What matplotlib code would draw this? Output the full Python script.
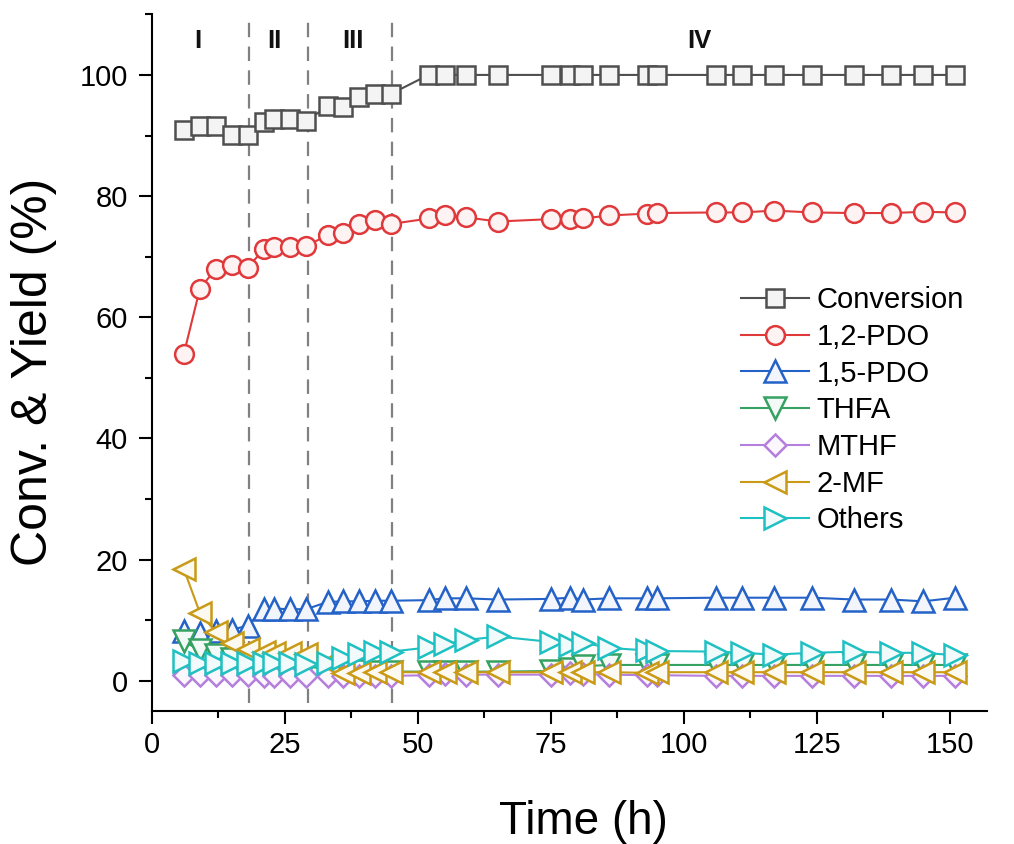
import matplotlib
matplotlib.use("Agg")
import matplotlib.pyplot as plt
from matplotlib.ticker import MultipleLocator
import matplotlib.colors as mcolors

plt.rcParams['font.family'] = ['Liberation Sans', 'DejaVu Sans']

# ---------------- data ----------------
time_h = [6, 9, 12, 15, 18, 21, 23, 26, 29, 33, 36, 39, 42, 45, 52, 55, 59, 65,
          75, 78.5, 81, 86, 93, 95, 106, 111, 117, 124, 132, 139, 145, 151]

conversion = [90.9, 91.6, 91.5, 90.1, 90.1, 92.3, 92.7, 92.7, 92.4, 94.8, 94.7, 96.3,
              96.9, 96.9, 100, 100, 100, 100, 100, 100, 100, 100, 100, 100, 100, 100,
              100, 100, 100, 100, 100, 100]
pdo12 = [54.0, 64.7, 68.0, 68.6, 68.2, 71.2, 71.6, 71.6, 71.7, 73.6, 73.9, 75.4, 76.0,
         75.4, 76.3, 76.9, 76.5, 75.8, 76.2, 76.2, 76.3, 76.8, 77.1, 77.2, 77.3, 77.3,
         77.6, 77.3, 77.2, 77.2, 77.4, 77.3]
pdo15 = [8.2, 7.8, 8.2, 8.4, 9.1, 11.8, 11.9, 11.8, 11.8, 13.0, 13.1, 13.1, 13.2, 13.2,
         13.3, 13.6, 13.6, 13.4, 13.5, 13.7, 13.4, 13.6, 13.6, 13.6, 13.7, 13.7, 13.7,
         13.7, 13.4, 13.4, 13.1, 13.7]
thfa = [6.5, 5.0, 4.2, 3.6, 3.2, 2.9, 2.7, 2.5, 2.3, 2.0, 1.8, 1.6, 1.5, 1.5, 1.5, 1.5,
        1.5, 1.5, 1.6, 2.0, 2.4, 2.6, 2.6, 2.6, 2.6, 2.6, 2.6, 2.6, 2.6, 2.6, 2.6, 2.6]
mthf = [1.0, 1.0, 1.0, 0.9, 0.9, 0.8, 0.8, 0.8, 0.8, 0.8, 0.8, 0.8, 0.8, 0.8, 0.9, 1.1,
        1.0, 1.0, 1.0, 1.3, 1.1, 1.0, 0.9, 0.9, 0.8, 0.8, 0.8, 0.8, 0.8, 0.8, 0.8, 0.8]
mf2 = [18.4, 11.2, 8.0, 6.2, 5.2, 4.8, 4.6, 4.6, 4.4, 3.0, 1.3, 1.3, 1.4, 1.4, 1.4, 1.4,
       1.4, 1.4, 1.4, 1.4, 1.4, 1.4, 1.3, 1.4, 1.4, 1.4, 1.4, 1.4, 1.4, 1.4, 1.4, 1.4]
others = [3.2, 3.0, 3.0, 3.0, 3.0, 2.9, 2.9, 2.9, 2.8, 3.0, 3.8, 4.4, 4.7, 4.8, 5.5, 6.0,
          6.7, 7.3, 6.4, 5.9, 6.3, 5.4, 5.0, 4.9, 4.8, 4.6, 4.3, 4.6, 4.8, 4.6, 4.6, 4.2]

series_names = ["Conversion", "1,2-PDO", "1,5-PDO", "THFA", "MTHF", "2-MF", "Others"]

period_bounds = [18.2, 29.3, 45.2]
period_labels = ["I", "II", "III", "IV"]
period_label_x = [8.7, 23.1, 37.7, 103]

# ---------------- style ----------------
colors = ["#4f4f4f", "#e0393b", "#2462c8", "#35a262", "#b47fdd", "#c99a16", "#1fc0c2"]
markers = ["s", "o", "^", "v", "D", "<", ">"]
msizes = [12.5, 13.5, 16, 16, 11, 16.5, 16.5]

def tint(c, f=0.06):
    r, g, b = mcolors.to_rgb(c)
    return (1 - f + f * r, 1 - f + f * g, 1 - f + f * b)

fig = plt.figure(figsize=(10.14, 8.44), dpi=100)
ax = fig.add_axes([0.1499, 0.1576, 0.9734 - 0.1499, 0.983 - 0.1576])

data = [conversion, pdo12, pdo15, thfa, mthf, mf2, others]
for name, ys, c, m, ms in zip(series_names, data, colors, markers, msizes):
    ax.plot(time_h, ys, color=c, lw=1.5, marker=m, ms=ms, mfc=tint(c),
            mec=c, mew=1.8, label=name, zorder=3)

for xb in period_bounds:
    ax.plot([xb, xb], [-3.6, 110], color="#808080", lw=1.6,
            linestyle=(0, (6.5, 4.2)), zorder=2)

for lab, xl in zip(period_labels, period_label_x):
    ax.text(xl, 105.6, lab, ha="center", va="center", fontsize=18.5,
            fontweight="bold", color="#111111")

ax.set_xlim(0, 157)
ax.set_ylim(-5, 110)
ax.xaxis.set_major_locator(MultipleLocator(25))
ax.xaxis.set_minor_locator(MultipleLocator(12.5))
ax.yaxis.set_major_locator(MultipleLocator(20))
ax.yaxis.set_minor_locator(MultipleLocator(10))
ax.set_yticks([0, 20, 40, 60, 80, 100])

for s in ["top", "right"]:
    ax.spines[s].set_visible(False)
for s in ["left", "bottom"]:
    ax.spines[s].set_linewidth(1.5)

ax.tick_params(which="major", direction="out", length=9.2, width=1.5,
               labelsize=21)
ax.tick_params(which="minor", direction="out", length=4.8, width=1.5)
ax.tick_params(axis="y", which="major", pad=8)
ax.tick_params(axis="x", which="major", pad=5)

ax.set_xlabel("Time (h)", fontsize=33)
ax.set_ylabel("Conv. & Yield (%)", fontsize=36)
ax.xaxis.set_label_coords(0.517, -0.128)
ax.yaxis.set_label_coords(-0.114, 0.487)

leg = ax.legend(loc="upper left", bbox_to_anchor=(741 / 1014, 1 - 286 / 844),
                bbox_transform=fig.transFigure, frameon=False, fontsize=21,
                handlelength=2.33, handletextpad=0.27, labelspacing=0.3,
                borderaxespad=0, borderpad=0)

fig.savefig("out.png", dpi=100)
